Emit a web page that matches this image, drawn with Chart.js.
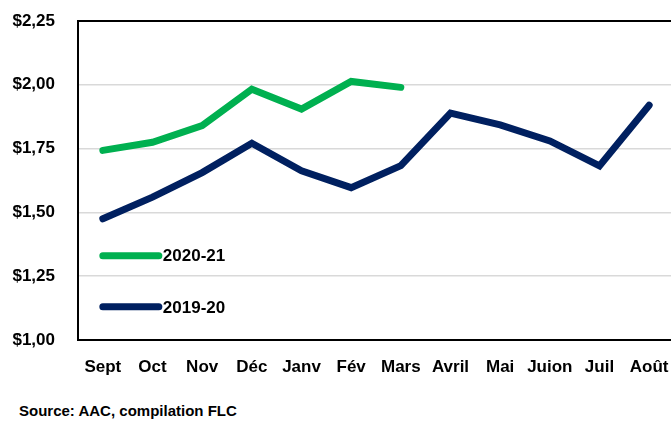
<!DOCTYPE html>
<html>
<head>
<meta charset="utf-8">
<script src="https://cdn.jsdelivr.net/npm/chart.js@4"></script>
<style>
  html, body { margin: 0; padding: 0; background: #fff; overflow: hidden; }
  #wrap { position: relative; width: 671px; height: 390px; overflow: hidden; }
  #source {
    position: absolute; left: 19px; top: 402px;
    font: bold 15px "Liberation Sans", Arial, sans-serif; color: #000;
  }
</style>
</head>
<body>
<div id="wrap"><canvas id="priceChart" width="674" height="390"></canvas></div>
<div id="source">Source: AAC, compilation FLC</div>
<script>
// months (Sept -> Août)
const months = ['Sept', 'Oct', 'Nov', 'Déc', 'Janv', 'Fév', 'Mars', 'Avril', 'Mai', 'Juion', 'Juil', 'Août'];
const season2021 = [1.743, 1.775, 1.84, 1.983, 1.905, 2.013, 1.99, null, null, null, null, null];
const season1920 = [1.475, 1.56, 1.656, 1.771, 1.663, 1.597, 1.683, 1.889, 1.843, 1.78, 1.682, 1.92];
const yTicks = [1.00, 1.25, 1.50, 1.75, 2.00, 2.25];

const GREEN = '#00b050';
const NAVY = '#002060';
const FONT = '"Liberation Sans", Arial, sans-serif';

// legend drawn inside the plot, like the original
const legendItems = [
  { label: '2020-21', color: GREEN, at: 1.33 },
  { label: '2019-20', color: NAVY, at: 1.13 }
];

const insideLegend = {
  id: 'insideLegend',
  afterDatasetsDraw(chart) {
    const { ctx, scales: { x, y } } = chart;
    const x0 = x.getPixelForValue(0);
    ctx.save();
    legendItems.forEach(item => {
      const py = y.getPixelForValue(item.at);
      ctx.beginPath();
      ctx.lineWidth = 7;
      ctx.lineCap = 'round';
      ctx.strokeStyle = item.color;
      ctx.moveTo(x0, py);
      ctx.lineTo(x0 + 56, py);
      ctx.stroke();
      ctx.fillStyle = '#000';
      ctx.font = 'bold 17px ' + FONT;
      ctx.textBaseline = 'middle';
      ctx.fillText(item.label, x0 + 60, py + 1);
    });
    ctx.restore();
  }
};

const ctx = document.getElementById('priceChart').getContext('2d');

new Chart(ctx, {
  type: 'line',
  data: {
    labels: months,
    datasets: [
      {
        label: '2019-20',
        data: season1920,
        borderColor: NAVY,
        borderWidth: 7,
        borderCapStyle: 'round',
        pointRadius: 0,
        tension: 0
      },
      {
        label: '2020-21',
        data: season2021,
        borderColor: GREEN,
        borderWidth: 7,
        borderCapStyle: 'round',
        pointRadius: 0,
        tension: 0,
        spanGaps: false
      }
    ]
  },
  options: {
    responsive: false,
    animation: false,
    layout: { padding: { top: 21, right: 0, left: 0, bottom: 0 } },
    plugins: {
      legend: { display: false },
      tooltip: { enabled: false }
    },
    scales: {
      x: {
        offset: true,
        grid: { display: false },
        border: { color: '#000', width: 2 },
        ticks: {
          color: '#000',
          font: { family: FONT, size: 17, weight: 'bold' },
          padding: 9,
          maxRotation: 0,
          autoSkip: false
        },
        afterFit(scale) {
          scale.height = 50;
          scale.paddingLeft = 0;
          scale.paddingRight = 0;
        }
      },
      y: {
        min: 1,
        max: 2.25,
        afterBuildTicks(scale) { scale.ticks = yTicks.map(v => ({ value: v })); },
        grid: {
          drawTicks: false,
          color: c => (c.tick && c.tick.value === 2.25) ? '#000' : '#d9d9d9',
          lineWidth: c => (c.tick && c.tick.value === 2.25) ? 2 : 1.5
        },
        border: { color: '#000', width: 2 },
        ticks: {
          color: '#000',
          font: { family: FONT, size: 17, weight: 'bold' },
          padding: 23,
          callback: v => '$' + Number(v).toFixed(2).replace('.', ',')
        },
        afterFit(scale) {
          scale.width = 78;
          scale.paddingTop = 0;
          scale.paddingBottom = 0;
        }
      }
    }
  },
  plugins: [insideLegend]
});
</script>
</body>
</html>
